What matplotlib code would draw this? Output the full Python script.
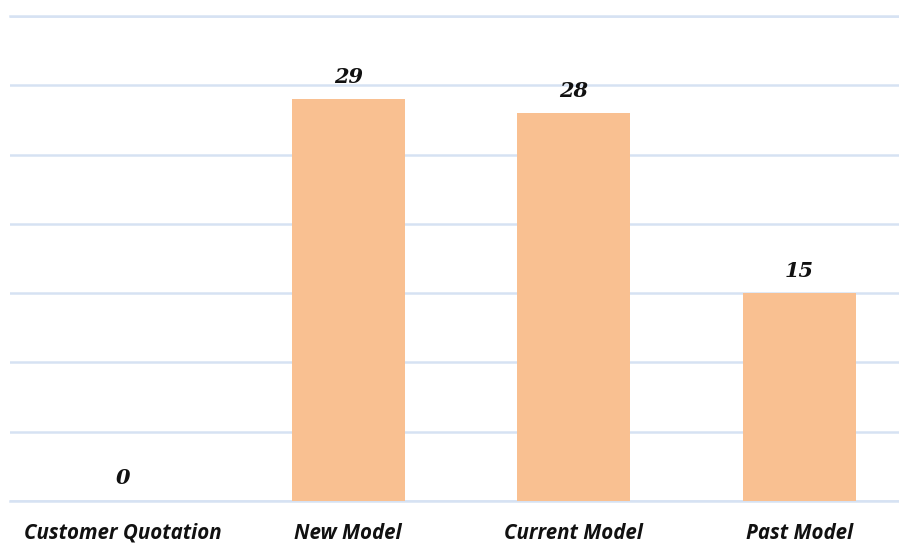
import matplotlib
matplotlib.use("Agg")
import matplotlib.pyplot as plt

categories = ["Customer Quotation", "New Model", "Current Model", "Past Model"]
values = [0, 29, 28, 15]

bar_color = "#F9C091"
grid_color = "#D6E2F3"

W, H = 899, 544
fig = plt.figure(figsize=(W / 100, H / 100), dpi=100)
left, right, bottom, top = 10, 912, 501, 16
ax = fig.add_axes([left / W, (H - bottom) / H, (right - left) / W, (bottom - top) / H])

x = range(len(categories))
ax.bar(x, values, width=0.5, color=bar_color, zorder=2)

ax.set_xlim(-0.5, len(categories) - 0.5)
ax.set_ylim(0, 35)
ax.set_yticks(range(0, 36, 5))
ax.yaxis.grid(True, color=grid_color, linewidth=1.8, zorder=0)
# baseline sits on the axes edge, draw it unclipped so it is as thick as the rest
ax.axhline(0, color=grid_color, linewidth=1.8, zorder=1, clip_on=False)
ax.axhline(35, color=grid_color, linewidth=1.8, zorder=1, clip_on=False)
ax.tick_params(left=False, labelleft=False, bottom=False)
for s in ax.spines.values():
    s.set_visible(False)

ax.set_xticks(list(x))
ax.set_xticklabels(categories, fontfamily="Open Sans", fontsize=14.8,
                   fontweight="bold", fontstyle="italic", color="#111111")
ax.tick_params(axis="x", pad=12)

for xi, v in zip(x, values):
    ax.annotate(str(v), (xi, v), xytext=(0, 9), textcoords="offset points",
                ha="center", va="bottom", fontfamily="DejaVu Serif",
                fontsize=15, fontweight="bold", fontstyle="italic", color="#111111")

fig.savefig("out.png", dpi=100)
